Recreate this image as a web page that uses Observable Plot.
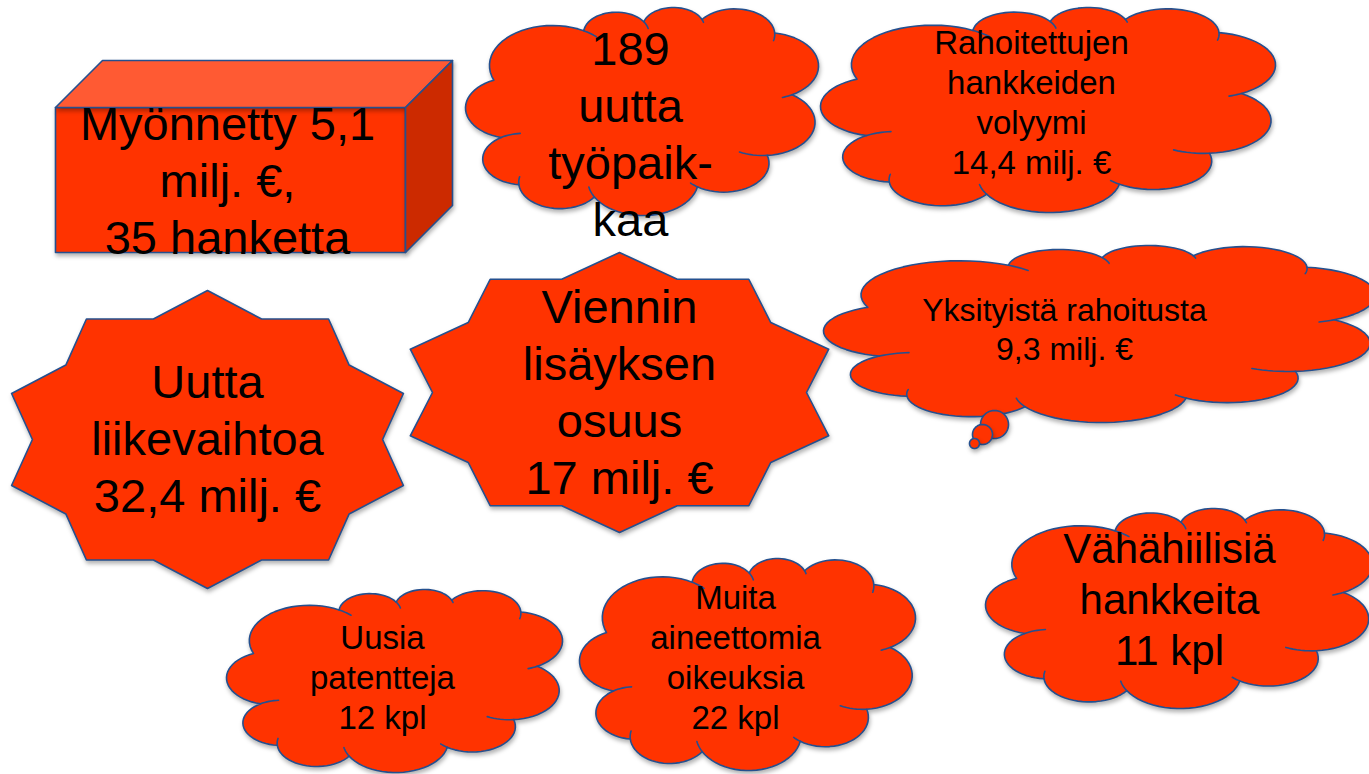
<!DOCTYPE html>
<html><head><meta charset="utf-8">
<script src="https://cdn.jsdelivr.net/npm/d3@7"></script>
<script src="https://cdn.jsdelivr.net/npm/@observablehq/plot@0.6"></script>
<style>
html,body{margin:0;padding:0;background:#fff;overflow:hidden}
#chart svg g.shapes path{filter:drop-shadow(1px 3px 2px rgba(0,0,0,0.3))}
</style></head><body><div id="chart"></div>
<script>
// ---- data: the texts of the infographic ----
const labels = [
  "Myönnetty 5,1\nmilj. €,\n35 hanketta",
  "189\nuutta\ntyöpaik-\nkaa",
  "Rahoitettujen\nhankkeiden\nvolyymi\n14,4 milj. €",
  "Yksityistä rahoitusta\n9,3 milj. €",
  "Uutta\nliikevaihtoa\n32,4 milj. €",
  "Viennin\nlisäyksen\nosuus\n17 milj. €",
  "Uusia\npatentteja\n12 kpl",
  "Muita\naineettomia\noikeuksia\n22 kpl",
  "Vähähiilisiä\nhankkeita\n11 kpl"
];
const shapeKinds = ["box","cloud","cloud","thought","star","star","cloud","cloud","cloud"];

// ---- layout (positions / sizes of each shape and its text) ----
const layout = [
  {x0:55,  y0:107, x1:405,  y1:252, depth:47, tx:227,  ty:178, fs:47},
  {x0:465, y0:7,   x1:818,  y1:215, tx:630,  ty:132, fs:47},
  {x0:820, y0:7,   x1:1275, y1:212, tx:1031, ty:100.5, fs:33},
  {x0:823, y0:245, x1:1375, y1:422, tx:1064, ty:327.5, fs:32, bubbles:[[994,424,14],[982,434,10],[974,443,5]]},
  {x0:1,   y0:290, x1:413,  y1:588, tx:207,  ty:436.3, fs:47},
  {x0:399, y0:252, x1:839,  y1:532, tx:619,  ty:389.7, fs:47},
  {x0:226, y0:589, x1:562,  y1:772, tx:382,  ty:675.5, fs:33},
  {x0:579, y0:558, x1:915,  y1:770, tx:735,  ty:655.5, fs:33},
  {x0:985, y0:508, x1:1372, y1:708, tx:1169, ty:597.4, fs:42}
];

const FILL = "#ff3300", TOPFILL = "#ff5a33", SIDEFILL = "#cc2a00", STROKE = "#24508f";

// cloud outline template: cusps in a unit square, joined by outward arcs
const CUSPS = [[0.09,0.355],[0.345,0.135],[0.515,0.095],[0.68,0.085],[0.886,0.145],[0.935,0.42],[0.865,0.69],[0.667,0.83],[0.375,0.875],[0.161,0.82],[0.111,0.61]];
// how far (radians) each bump's circle continues inside the shape past its end cusp
const INNER = [0.25, 0.35, 0.15, 0.3, 0.2, 0.55, 0.2, 0.3, 0.3, 0.5, 0.0];
function cloudTemplate() {
  const pts = [], inner = [], c = [0.5, 0.5], TAU = 2 * Math.PI;
  const mod = a => ((a % TAU) + TAU) % TAU;
  for (let i = 0; i < CUSPS.length; i++) {
    const p1 = CUSPS[i], p2 = CUSPS[(i + 1) % CUSPS.length];
    const dx = p2[0] - p1[0], dy = p2[1] - p1[1], ch = Math.hypot(dx, dy);
    const m = [(p1[0] + p2[0]) / 2, (p1[1] + p2[1]) / 2];
    let n = [-dy / ch, dx / ch];
    if (n[0] * (m[0] - c[0]) + n[1] * (m[1] - c[1]) < 0) n = [-n[0], -n[1]];
    const r = 0.53 * ch, h = Math.sqrt(r * r - ch * ch / 4);
    const C = [m[0] - n[0] * h, m[1] - n[1] * h];
    const a1 = Math.atan2(p1[1] - C[1], p1[0] - C[0]);
    const a2 = Math.atan2(p2[1] - C[1], p2[0] - C[0]);
    const am = Math.atan2(n[1], n[0]);
    const d = mod(a2 - a1);
    const sweep = mod(am - a1) < d ? d : d - TAU;
    for (let k = 0; k <= 24; k++) {
      const a = a1 + sweep * k / 24;
      pts.push([C[0] + r * Math.cos(a), C[1] + r * Math.sin(a)]);
    }
    const ext = INNER[i] * Math.sign(sweep);
    if (ext !== 0) {
      const seg = [];
      for (let k = 0; k <= 8; k++) {
        const a = a2 + ext * k / 8;
        seg.push([C[0] + r * Math.cos(a), C[1] + r * Math.sin(a)]);
      }
      inner.push(seg);
    }
  }
  const xs = pts.map(p => p[0]), ys = pts.map(p => p[1]);
  const [mx, Mx] = d3.extent(xs), [my, My] = d3.extent(ys);
  const norm = ([x, y]) => [(x - mx) / (Mx - mx), (y - my) / (My - my)];
  return {outline: pts.map(norm), inner: inner.map(s => s.map(norm))};
}
const CLOUD = cloudTemplate();

const rows = [], innerRows = [];
let gid = 0;
function addPoly(pts, fill) {
  const id = gid++;
  for (const [x, y] of pts) rows.push({id, x, y, fill});
  rows.push({id, x: pts[0][0], y: pts[0][1], fill});
}
function circle(cx, cy, r) {
  return d3.range(0, 49).map(k => [cx + r * Math.cos(k / 48 * 2 * Math.PI), cy + r * Math.sin(k / 48 * 2 * Math.PI)]);
}

shapeKinds.forEach((kind, i) => {
  const L = layout[i];
  if (kind === "box") {
    const {x0, y0, x1, y1, depth: d} = L;
    addPoly([[x0, y0], [x1, y0], [x1, y1], [x0, y1]], FILL);
    addPoly([[x0, y0], [x0 + d, y0 - d], [x1 + d, y0 - d], [x1, y0]], TOPFILL);
    addPoly([[x1, y0], [x1 + d, y0 - d], [x1 + d, y1 - d], [x1, y1]], SIDEFILL);
  } else if (kind === "star") {
    const cx = (L.x0 + L.x1) / 2, cy = (L.y0 + L.y1) / 2, rx = (L.x1 - L.x0) / 2, ry = (L.y1 - L.y0) / 2;
    const pts = d3.range(20).map(k => {
      const a = k * Math.PI / 10, f = k % 2 ? 0.85 : 1;
      return [cx + rx * f * Math.sin(a), cy - ry * f * Math.cos(a)];
    });
    addPoly(pts, FILL);
  } else {
    const w = L.x1 - L.x0, h = L.y1 - L.y0;
    const map = ([u, v]) => [L.x0 + u * w, L.y0 + v * h];
    addPoly(CLOUD.outline.map(map), FILL);
    const base = gid * 100;
    CLOUD.inner.forEach((seg, j) => seg.forEach(p => {
      const [x, y] = map(p);
      innerRows.push({id: base + j, x, y});
    }));
    if (L.bubbles) for (const [bx, by, br] of L.bubbles) addPoly(circle(bx, by, br), FILL);
  }
});

const textRows = labels.map((t, i) => ({text: t, x: layout[i].tx, y: layout[i].ty, fs: layout[i].fs}));

const chart = Plot.plot({
  width: 1369, height: 774, margin: 0,
  x: {domain: [0, 1369], range: [0, 1369], axis: null},
  y: {domain: [0, 774], range: [0, 774], axis: null},
  color: {type: "identity"},
  style: {background: "#fff"},
  marks: [
    Plot.line(rows, {x: "x", y: "y", z: "id", fill: "fill", stroke: STROKE, strokeWidth: 1.6, curve: "linear", className: "shapes"}),
    Plot.line(innerRows, {x: "x", y: "y", z: "id", stroke: STROKE, strokeWidth: 1.6, curve: "linear"}),
    Plot.text(textRows, {x: "x", y: "y", text: "text", fontSize: "fs", lineHeight: 1.21, fill: "#000",
      fontFamily: "'Liberation Sans', Arial, sans-serif"})
  ]
});
// shadow for the filled shapes (fallback if className is not supported)
chart.querySelectorAll('g[aria-label="line"]')[0]?.classList.add("shapes");
document.getElementById("chart").appendChild(chart);
</script></body></html>
